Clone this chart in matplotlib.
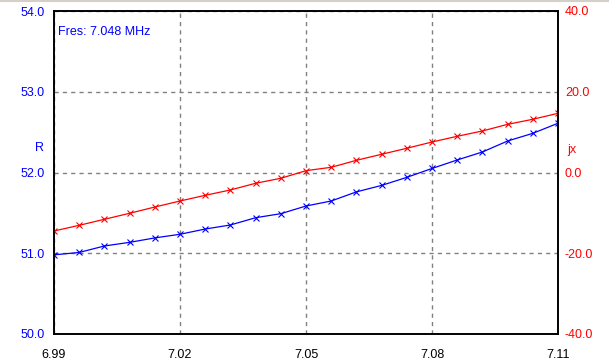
import matplotlib
matplotlib.use("Agg")
import matplotlib.pyplot as plt
import numpy as np

plt.rcParams['font.family'] = ['Liberation Sans', 'DejaVu Sans']

freq = [6.990, 6.996, 7.002, 7.008, 7.014, 7.020, 7.026, 7.032, 7.038, 7.044, 7.050,
        7.056, 7.062, 7.068, 7.074, 7.080, 7.086, 7.092, 7.098, 7.104, 7.110]
r_vals = [50.98, 51.01, 51.09, 51.135, 51.19, 51.235, 51.30, 51.35, 51.44, 51.49, 51.585,
          51.647, 51.76, 51.84, 51.94, 52.05, 52.155, 52.254, 52.39, 52.485, 52.61]
jx_vals = [-14.49, -13.08, -11.59, -10.1, -8.55, -7.06, -5.65, -4.33, -2.67, -1.43, 0.45,
           1.29, 3.02, 4.51, 6.0, 7.55, 8.97, 10.28, 11.93, 13.18, 14.66]
x_ticks = [6.99, 7.02, 7.05, 7.08, 7.11]
r_ticks = [50.0, 51.0, 52.0, 53.0, 54.0]
jx_ticks = [-40.0, -20.0, 0.0, 20.0, 40.0]

fig = plt.figure(figsize=(6.09, 3.64), dpi=100)
W, H = 609, 364
ax = fig.add_axes([54 / W, 1 - 334 / H, (558 - 54) / W, (334 - 11) / H])
ax2 = ax.twinx()

ax.plot(freq, r_vals, color='#0000ff', lw=0.9, marker='x', ms=4.5, mew=0.8)
ax2.plot(freq, jx_vals, color='#ff0000', lw=0.9, marker='x', ms=4.5, mew=0.8)

ax.set_xlim(6.99, 7.11)
ax.set_ylim(50, 54)
ax2.set_ylim(-40, 40)
ax.set_xticks(x_ticks)
ax.set_xticklabels([f"{v:.2f}" for v in x_ticks], fontsize=9, color='black')
ax.set_yticks(r_ticks)
ax.set_yticklabels([f"{v:.1f}" for v in r_ticks], fontsize=9, color='#0000ff')
ax2.set_yticks(jx_ticks)
ax2.set_yticklabels([f"{v:.1f}" for v in jx_ticks], fontsize=9, color='#ff0000')

ax.tick_params(axis='y', length=0, pad=7)
ax.tick_params(axis='x', length=0, pad=11)
ax2.tick_params(axis='y', length=0, pad=5)

ax.grid(True, color='#808080', linestyle=(0, (3, 3)), lw=1)
for s in list(ax.spines.values()) + list(ax2.spines.values()):
    s.set_color('black')
    s.set_linewidth(1.2)

ax.text(0.008, 0.955, "Fres: 7.048 MHz", transform=ax.transAxes, color='#0000ff',
        fontsize=9, ha='left', va='top')
fig.text(40 / W, 1 - 148 / H, "R", color='#0000ff', fontsize=9, ha='center', va='center')
fig.text(572 / W, 1 - 150 / H, "jx", color='#ff0000', fontsize=9, ha='center', va='center')

fig.add_artist(plt.Line2D([0, 1], [1 - 0.5 / H, 1 - 0.5 / H], transform=fig.transFigure,
                          color='#d4d0c8', lw=1.5))

fig.savefig("out.png", dpi=100)
